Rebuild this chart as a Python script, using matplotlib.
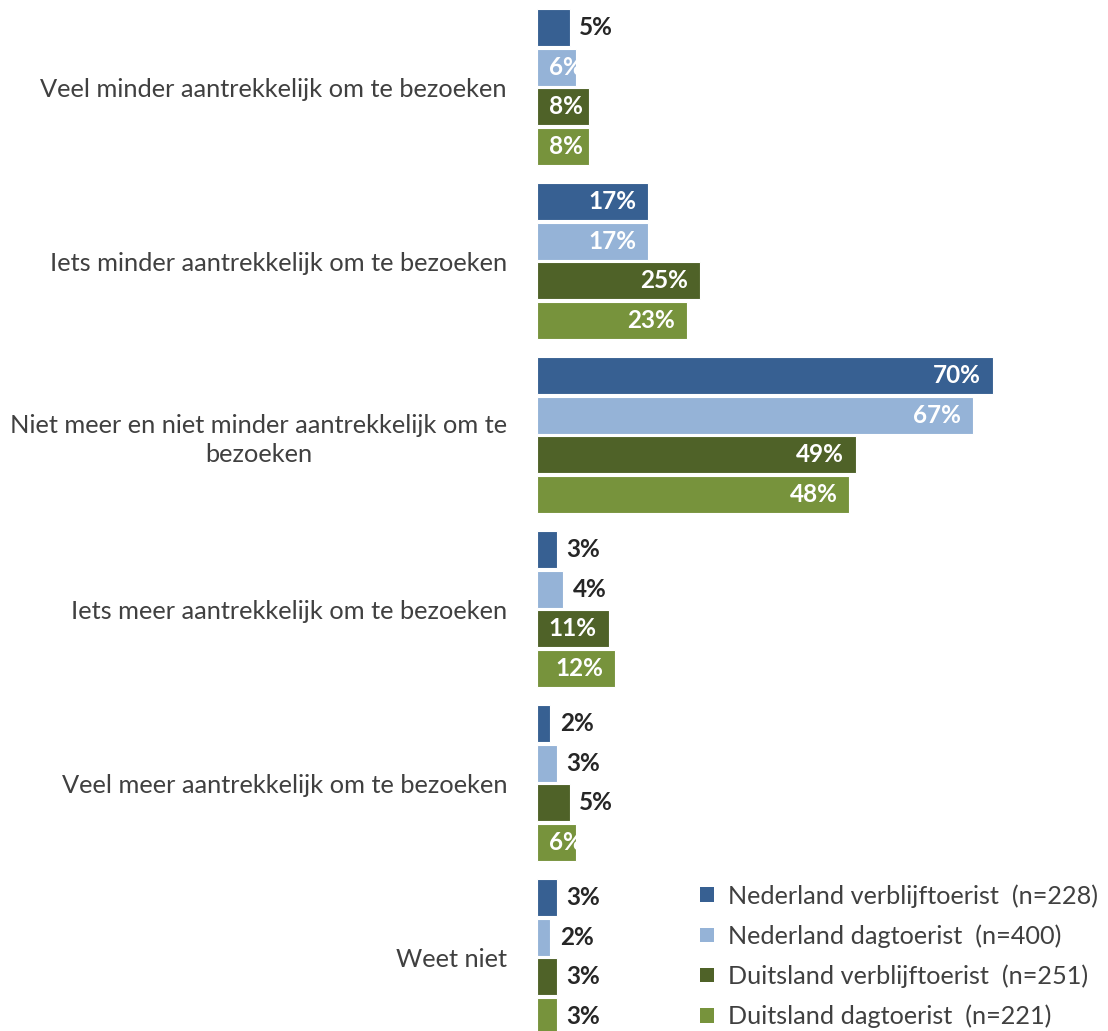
import numpy as np
import matplotlib.pyplot as plt
from matplotlib.patches import Patch

categories = [
    "Veel minder aantrekkelijk om te bezoeken",
    "Iets minder aantrekkelijk om te bezoeken",
    "Niet meer en niet minder aantrekkelijk om te\nbezoeken",
    "Iets meer aantrekkelijk om te bezoeken",
    "Veel meer aantrekkelijk om te bezoeken",
    "Weet niet",
]
series_names = [
    "Nederland verblijftoerist  (n=228)",
    "Nederland dagtoerist  (n=400)",
    "Duitsland verblijftoerist  (n=251)",
    "Duitsland dagtoerist  (n=221)",
]
nl_verblijf = [5, 17, 70, 3, 2, 3]
nl_dag = [6, 17, 67, 4, 3, 2]
de_verblijf = [8, 25, 49, 11, 5, 3]
de_dag = [8, 23, 48, 12, 6, 3]

series = [nl_verblijf, nl_dag, de_verblijf, de_dag]
colors = ["#376092", "#95b3d7", "#4f6228", "#77933c"]

plt.rcParams['font.family'] = ['Lato', 'DejaVu Sans']
text_col = "#404040"

fig = plt.figure(figsize=(11.08, 10.31), dpi=100)
ax = fig.add_axes([537 / 1108, 0, 563 / 1108, 1])

y = np.arange(len(categories))
pitch = 0.227
bh = 0.2126
lbl = dict(va="center", fontsize=17.5, fontweight="bold")
for k, vals in enumerate(series):
    pos = y + (k - 1.5) * pitch
    ax.barh(pos, vals, height=bh, color=colors[k], edgecolor="white", linewidth=0.8)
    for yy, v in zip(pos, vals):
        if v <= 5:
            ax.text(v + 1.5, yy, f"{v}%", ha="left", color="#262626", **lbl)
        elif v < 9:
            ax.text(1.8, yy, f"{v}%", ha="left", color="white", **lbl)
        else:
            ax.text(v - 1.8, yy, f"{v}%", ha="right", color="white", **lbl)

ax.set_xlim(0, 86.5)
ax.set_ylim(5.425, -0.5)
ax.set_yticks(y)
ax.set_yticklabels(categories, fontsize=18.3, color=text_col,
                   multialignment="center", linespacing=1.3)
ax.tick_params(axis="y", length=0, pad=21.6)
ax.set_xticks([])
for s in ax.spines.values():
    s.set_visible(False)

handles = [Patch(facecolor=c, edgecolor="none") for c in colors]
fig.legend(handles, series_names, loc="upper left",
           bbox_to_anchor=(700 / 1108, 1 - 884 / 1031),
           frameon=False, fontsize=18.2, labelcolor=text_col, handlelength=0.55,
           handleheight=0.5, handletextpad=0.55, labelspacing=0.66,
           borderpad=0, borderaxespad=0)

fig.savefig("out.png", dpi=100)
